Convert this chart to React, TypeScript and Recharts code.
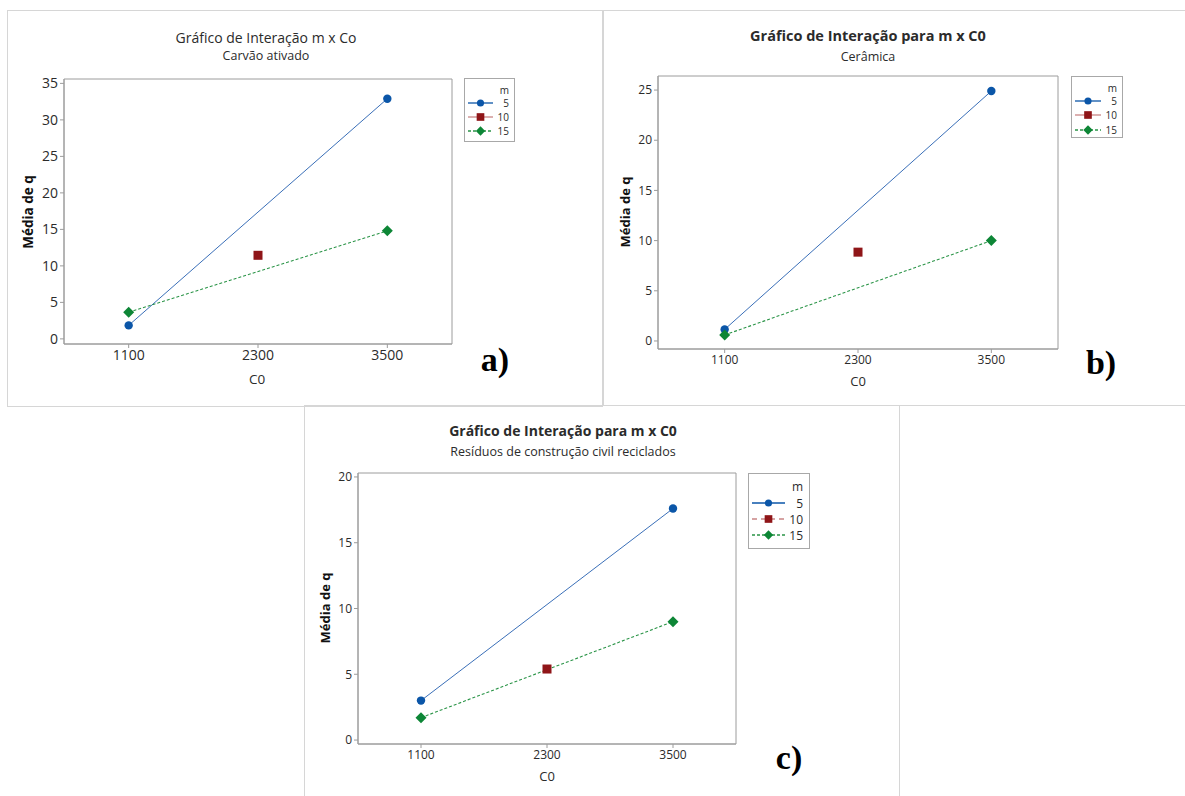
import React from "react";
import { LineChart, Line, XAxis, YAxis, ReferenceArea, Legend } from "recharts";

// C0 levels and tick values
const c0Levels = [1100, 2300, 3500];
const xDomain = [500, 4100];

// a) Carvão ativado
const carvaoM5 = [1.85, null, 32.9];
const carvaoM10 = [null, 11.45, null];
const carvaoM15 = [3.65, null, 14.8];
const carvaoYTicks = [0, 5, 10, 15, 20, 25, 30, 35];

// b) Cerâmica
const ceramicaM5 = [1.15, null, 24.9];
const ceramicaM10 = [null, 8.85, null];
const ceramicaM15 = [0.6, null, 10.0];
const ceramicaYTicks = [0, 5, 10, 15, 20, 25];

// c) Resíduos de construção civil reciclados
const rccM5 = [3.0, null, 17.6];
const rccM10 = [null, 5.4, null];
const rccM15 = [1.7, null, 9.0];
const rccYTicks = [0, 5, 10, 15, 20];

const mLevels = ["5", "10", "15"];

const FONT = '"Open Sans", "Noto Sans", sans-serif';
const BLUE = "#0b56a8";
const BLUE_LINE = "#3a6fb8";
const RED = "#8f1518";
const RED_LINE = "#c98585";
const GREEN = "#0d8636";
const GREEN_LINE = "#2a9447";
const TEXT = "#2b2b2b";

function Marker({ kind, cx, cy, s = 1 }) {
  if (cx == null || cy == null) return null;
  if (kind === "circle") return <circle cx={cx} cy={cy} r={4.2 * s} fill={BLUE} />;
  if (kind === "square")
    return <rect x={cx - 4.5 * s} y={cy - 4.5 * s} width={9 * s} height={9 * s} fill={RED} />;
  const r = 5.5 * s;
  return (
    <polygon
      points={`${cx},${cy - r} ${cx + r},${cy} ${cx},${cy + r} ${cx - r},${cy}`}
      fill={GREEN}
    />
  );
}

const dotFor = (kind) => (props) => (
  <Marker key={`${kind}-${props.index}`} kind={kind} cx={props.cx} cy={props.cy} />
);

function LegendBox({ cfg }) {
  const lg = cfg.legend;
  const rows = [
    { name: mLevels[0], kind: "circle", color: BLUE, dash: undefined },
    { name: mLevels[1], kind: "square", color: RED_LINE, dash: cfg.dash10 ? "5 4" : undefined },
    { name: mLevels[2], kind: "diamond", color: GREEN_LINE, dash: "3 2" },
  ];
  return (
    <svg width={lg.w} height={lg.h} style={{ display: "block" }}>
      <rect x={0.5} y={0.5} width={lg.w - 1} height={lg.h - 1} fill="#fff" stroke="#a8a8a8" />
      <text x={lg.textX} y={lg.rowY[0]} textAnchor="end" dominantBaseline="central"
        fontSize={lg.fs} fontFamily={FONT} fill={TEXT}>m</text>
      {rows.map((r, i) => (
        <g key={r.name}>
          <line x1={lg.lineX[0]} x2={lg.lineX[1]} y1={lg.rowY[i + 1]} y2={lg.rowY[i + 1]}
            stroke={r.color} strokeWidth={1.3} strokeDasharray={r.dash} />
          <Marker kind={r.kind} cx={(lg.lineX[0] + lg.lineX[1]) / 2} cy={lg.rowY[i + 1]} s={0.85} />
          <text x={lg.textX} y={lg.rowY[i + 1]} textAnchor="end" dominantBaseline="central"
            fontSize={lg.fs} fontFamily={FONT} fill={TEXT}>{r.name}</text>
        </g>
      ))}
    </svg>
  );
}

const panels = [
  {
    id: "a",
    frame: { x: 7, y: 10, w: 596, h: 397 },
    chart: { x: 7, y: 10, w: 595, h: 396 },
    margin: { top: 69, right: 150, bottom: 22, left: 17 },
    yDomain: [-0.7, 35.6],
    yTicks: carvaoYTicks,
    m5: carvaoM5, m10: carvaoM10, m15: carvaoM15,
    title: "Gráfico de Interação m x Co", titleBold: false, titleFs: 14,
    titleXY: [266, 38],
    subtitle: "Carvão ativado", subFs: 12.5, subXY: [266, 56],
    tickFs: 14,
    yLabelXY: [29, 212], xLabelXY: [257, 380], labelFs: 13.5,
    legend: { x: 457, y: 68, w: 51, h: 64, fs: 10, rowY: [12, 25, 39, 53], lineX: [4, 29], textX: 45 },
    dash10: false,
    letter: "a)", letterXY: [495, 360],
  },
  {
    id: "b",
    frame: { x: 603, y: 10, w: 600, h: 396 },
    chart: { x: 603, y: 10, w: 582, h: 396 },
    margin: { top: 66, right: 127, bottom: 17, left: 15 },
    yDomain: [-0.8, 26.4],
    yTicks: ceramicaYTicks,
    m5: ceramicaM5, m10: ceramicaM10, m15: ceramicaM15,
    title: "Gráfico de Interação para m x C0", titleBold: true, titleFs: 14.5,
    titleXY: [868, 36],
    subtitle: "Cerâmica", subFs: 12.5, subXY: [868, 57],
    tickFs: 12,
    yLabelXY: [625, 212], xLabelXY: [858, 381], labelFs: 13,
    legend: { x: 468, y: 66, w: 52, h: 62, fs: 10, rowY: [12, 25, 39, 54], lineX: [4, 30], textX: 46 },
    dash10: false,
    letter: "b)", letterXY: [1101, 363],
  },
  {
    id: "c",
    frame: { x: 304, y: 405, w: 596, h: 400 },
    chart: { x: 304, y: 405, w: 596, h: 391 },
    margin: { top: 68, right: 164, bottom: 12, left: 14 },
    yDomain: [-0.3, 20.3],
    yTicks: rccYTicks,
    m5: rccM5, m10: rccM10, m15: rccM15,
    title: "Gráfico de Interação para m x C0", titleBold: true, titleFs: 14,
    titleXY: [563, 431],
    subtitle: "Resíduos de construção civil reciclados", subFs: 12.5, subXY: [563, 452],
    tickFs: 12,
    yLabelXY: [325, 608], xLabelXY: [547, 776], labelFs: 13,
    legend: { x: 444, y: 68, w: 62, h: 76, fs: 12, rowY: [13, 30, 46, 62], lineX: [4, 37], textX: 55 },
    dash10: true,
    letter: "c)", letterXY: [789, 758],
  },
];

function Panel({ cfg }) {
  const rows = c0Levels.map((c, i) => ({
    c0: c,
    m5: cfg.m5[i],
    m10: cfg.m10[i],
    m15: cfg.m15[i],
  }));
  const tickStyle = { fontSize: cfg.tickFs, fontFamily: FONT, fill: TEXT };
  const abs = (xy) => ({
    position: "absolute",
    left: xy[0],
    top: xy[1],
    transform: "translate(-50%, -50%)",
    whiteSpace: "nowrap",
    color: TEXT,
    fontFamily: FONT,
    lineHeight: 1,
  });
  return (
    <>
      <div
        style={{
          position: "absolute",
          left: cfg.frame.x,
          top: cfg.frame.y,
          width: cfg.frame.w,
          height: cfg.frame.h,
          border: "1px solid #d6d6d6",
          boxSizing: "border-box",
        }}
      />
      <div style={{ position: "absolute", left: cfg.chart.x, top: cfg.chart.y }}>
        <LineChart width={cfg.chart.w} height={cfg.chart.h} data={rows} margin={cfg.margin}>
          <XAxis
            dataKey="c0"
            type="number"
            domain={xDomain}
            ticks={c0Levels}
            height={40}
            tick={tickStyle}
            tickSize={4}
            tickMargin={2}
            stroke="#9c9c9c"
            tickLine={{ stroke: "#9c9c9c" }}
          />
          <YAxis
            type="number"
            domain={cfg.yDomain}
            ticks={cfg.yTicks}
            width={40}
            tick={tickStyle}
            tickSize={4}
            tickMargin={2}
            stroke="#9c9c9c"
            tickLine={{ stroke: "#9c9c9c" }}
            allowDataOverflow
          />
          <ReferenceArea
            x1={xDomain[0]}
            x2={xDomain[1]}
            y1={cfg.yDomain[0]}
            y2={cfg.yDomain[1]}
            fill="none"
            stroke="#9c9c9c"
            strokeWidth={1}
            fillOpacity={0}
          />
          <Legend
            layout="horizontal"
            verticalAlign="middle"
            align="center"
            wrapperStyle={{ position: "absolute", left: cfg.legend.x, top: cfg.legend.y, width: cfg.legend.w }}
            content={() => <LegendBox cfg={cfg} />}
          />
          <Line
            dataKey="m5"
            name={mLevels[0]}
            stroke={BLUE_LINE}
            strokeWidth={1}
            connectNulls
            dot={dotFor("circle")}
            activeDot={false}
            isAnimationActive={false}
          />
          <Line
            dataKey="m15"
            name={mLevels[2]}
            stroke={GREEN_LINE}
            strokeWidth={1.1}
            strokeDasharray="3 2"
            connectNulls
            dot={dotFor("diamond")}
            activeDot={false}
            isAnimationActive={false}
          />
          <Line
            dataKey="m10"
            name={mLevels[1]}
            stroke={RED_LINE}
            strokeWidth={1}
            strokeDasharray={cfg.dash10 ? "5 4" : undefined}
            connectNulls
            dot={dotFor("square")}
            activeDot={false}
            isAnimationActive={false}
          />
        </LineChart>
      </div>
      <div style={{ ...abs(cfg.titleXY), fontSize: cfg.titleFs, fontWeight: cfg.titleBold ? 700 : 400 }}>
        {cfg.title}
      </div>
      <div style={{ ...abs(cfg.subXY), fontSize: cfg.subFs }}>{cfg.subtitle}</div>
      <div
        style={{
          ...abs(cfg.yLabelXY),
          fontSize: cfg.labelFs,
          fontWeight: 700,
          color: "#111",
          transform: "translate(-50%, -50%) rotate(-90deg)",
        }}
      >
        Média de q
      </div>
      <div style={{ ...abs(cfg.xLabelXY), fontSize: cfg.labelFs }}>C0</div>
      <div
        style={{
          ...abs(cfg.letterXY),
          fontSize: 34,
          fontWeight: 700,
          color: "#000",
          fontFamily: '"Liberation Serif", "DejaVu Serif", serif',
        }}
      >
        {cfg.letter}
      </div>
    </>
  );
}

export default function App() {
  return (
    <div
      style={{
        position: "absolute",
        left: 0,
        top: 0,
        width: 1185,
        height: 796,
        overflow: "hidden",
        background: "#fff",
      }}
    >
      {panels.map((p) => (
        <Panel key={p.id} cfg={p} />
      ))}
    </div>
  );
}
